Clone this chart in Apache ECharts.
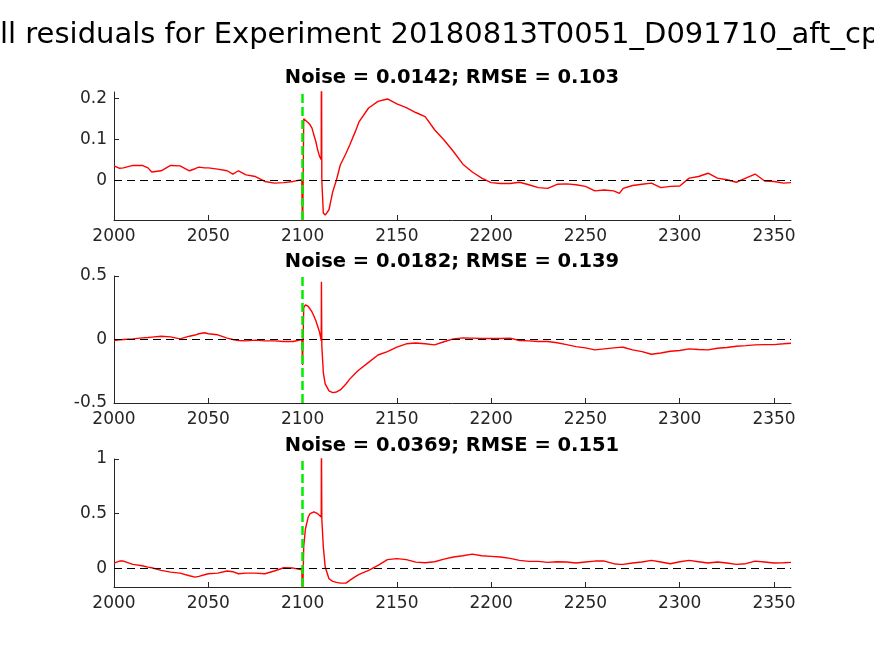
<!DOCTYPE html>
<html>
<head>
<meta charset="utf-8">
<script src="https://cdn.jsdelivr.net/npm/echarts@6/dist/echarts.min.js"></script>
<style>html,body{margin:0;padding:0;background:#fff}#c{width:874px;height:656px}</style>
</head>
<body>
<div id="c"></div>
<script>
const mainTitle = "ll residuals for Experiment 20180813T0051_D091710_aft_cp";
const subTitles = ["Noise = 0.0142; RMSE = 0.103", "Noise = 0.0182; RMSE = 0.139", "Noise = 0.0369; RMSE = 0.151"];
const xTicks = [2000, 2050, 2100, 2150, 2200, 2250, 2300, 2350];
const yTicks1 = [0, 0.1, 0.2];
const yTicks2 = [-0.5, 0, 0.5];
const yTicks3 = [0, 0.5, 1];
const eventX = 2100;
const X = [2000,2003,2005,2010,2015,2018,2020,2025,2030,2035,
2040,2043,2045,2048,2050,2055,2060,2063,2066,2070,
2075,2080,2085,2090,2095,2099.6,2100,2100.6,2101.5,2103,
2104,2105,2106,2107,2108,2109,2109.9,2110,2110.2,2111,
2112,2114,2116,2118,2120,2123,2125,2128,2130,2135,
2140,2145,2150,2155,2160,2165,2170,2175,2180,2185,
2190,2195,2200,2205,2210,2215,2220,2225,2230,2235,
2240,2245,2250,2255,2260,2265,2268,2270,2275,2280,
2285,2290,2295,2300,2305,2310,2315,2320,2325,2330,
2335,2340,2345,2350,2355,2359];
const Y1 = [0.035,0.029,0.030,0.036,0.036,0.030,0.020,0.023,0.036,0.035,
0.023,0.028,0.032,0.030,0.030,0.027,0.023,0.015,0.023,0.013,
0.009,-0.003,-0.007,-0.006,-0.003,0.001,-0.15,0.15,0.151,0.140,
0.135,0.127,0.110,0.095,0.074,0.058,0.050,0.4,0.0,-0.080,
-0.085,-0.072,-0.028,0.001,0.037,0.065,0.086,0.119,0.143,0.176,
0.192,0.198,0.186,0.177,0.165,0.155,0.123,0.098,0.070,0.039,
0.020,0.005,-0.006,-0.008,-0.008,-0.005,-0.011,-0.018,-0.020,-0.010,
-0.009,-0.011,-0.015,-0.026,-0.024,-0.026,-0.032,-0.020,-0.013,-0.010,
-0.007,-0.018,-0.015,-0.014,0.005,0.009,0.017,0.005,0.001,-0.005,
0.005,0.015,-0.002,-0.003,-0.007,-0.006];
const Y2 = [-0.008,-0.003,0.000,0.005,0.013,0.016,0.019,0.026,0.021,0.005,
0.026,0.035,0.045,0.053,0.045,0.037,0.011,0.000,-0.008,-0.011,
-0.005,-0.011,-0.011,-0.016,-0.016,0.000,-0.2,0.25,0.272,0.26,
0.24,0.217,0.185,0.150,0.105,0.058,-0.01,0.455,-0.05,-0.26,
-0.35,-0.405,-0.418,-0.413,-0.397,-0.35,-0.312,-0.265,-0.238,-0.18,
-0.122,-0.095,-0.06,-0.034,-0.027,-0.034,-0.042,-0.018,0.005,0.013,
0.011,0.008,0.008,0.008,0.011,-0.008,-0.011,-0.016,-0.016,-0.026,
-0.040,-0.056,-0.066,-0.082,-0.074,-0.066,-0.062,-0.061,-0.082,-0.095,
-0.116,-0.106,-0.093,-0.087,-0.074,-0.079,-0.082,-0.069,-0.063,-0.053,
-0.048,-0.042,-0.040,-0.040,-0.034,-0.029];
const Y3 = [0.049,0.067,0.067,0.037,0.024,0.012,0.006,-0.018,-0.034,-0.043,
-0.067,-0.080,-0.073,-0.058,-0.049,-0.043,-0.024,-0.030,-0.049,-0.043,
-0.043,-0.049,-0.024,0.006,0.003,-0.012,-0.3,0.2,0.36,0.47,
0.50,0.512,0.517,0.512,0.50,0.49,0.47,1.2,0.45,0.196,
0.012,-0.095,-0.119,-0.128,-0.135,-0.135,-0.11,-0.075,-0.055,-0.018,
0.028,0.08,0.089,0.08,0.057,0.052,0.061,0.085,0.104,0.116,
0.13,0.116,0.11,0.104,0.092,0.073,0.064,0.064,0.055,0.061,
0.058,0.049,0.058,0.067,0.067,0.043,0.037,0.037,0.049,0.058,
0.073,0.058,0.043,0.061,0.073,0.061,0.049,0.058,0.049,0.037,
0.043,0.067,0.058,0.049,0.052,0.055];
const yRanges = [[-0.097, 0.215], [-0.5, 0.5], [-0.17, 1]];

const axisColor = '#262626';
const grids = [
  {left: 114, width: 677, top: 92, height: 128},
  {left: 114, width: 677, top: 276, height: 127},
  {left: 114, width: 677, top: 459, height: 128}
];
const yTickSets = [yTicks1, yTicks2, yTicks3];
const Ys = [Y1, Y2, Y3];
const subY = [78, 262, 446];

function fmt(v){ return String(v); }

const xAxes = grids.map((g, i) => ({
  type: 'value', gridIndex: i, min: 2000, max: 2359,
  axisLine: {show: true, onZero: false, lineStyle: {color: axisColor, width: 1}},
  axisTick: {show: true, inside: true, length: 5, customValues: xTicks, lineStyle: {color: axisColor}},
  axisLabel: {show: true, customValues: xTicks, color: axisColor, fontSize: 17, fontFamily: 'DejaVu Sans', margin: 8, formatter: fmt},
  splitLine: {show: false}
}));
const yAxes = grids.map((g, i) => ({
  type: 'value', gridIndex: i, min: yRanges[i][0], max: yRanges[i][1],
  axisLine: {show: true, onZero: false, lineStyle: {color: axisColor, width: 1}},
  axisTick: {show: true, inside: true, length: 5, customValues: yTickSets[i], lineStyle: {color: axisColor}},
  axisLabel: {show: true, customValues: yTickSets[i], color: axisColor, fontSize: 17, fontFamily: 'DejaVu Sans', margin: 7, formatter: fmt},
  splitLine: {show: false}
}));
const series = Ys.map((Y, i) => ({
  type: 'line', xAxisIndex: i, yAxisIndex: i,
  data: X.map((x, k) => [x, Y[k]]),
  showSymbol: false, symbol: 'none', animation: false,
  lineStyle: {color: '#ff0000', width: 1.4},
  clip: true,
  markLine: {
    silent: true, symbol: 'none', animation: false,
    label: {show: false},
    data: [
      {yAxis: 0, lineStyle: {color: '#000', width: 1, type: [8, 5]}},
      {xAxis: eventX, lineStyle: {color: '#00ee00', width: 2.5, type: [9, 4]}}
    ]
  }
}));

const graphics = [{
  type: 'text', left: 0, top: 21,
  style: {text: mainTitle, fontSize: 29, fontFamily: 'DejaVu Sans', fill: '#000'}
}];
subTitles.forEach((t, i) => graphics.push({
  type: 'text', x: 452, y: subY[i],
  style: {text: t, fontSize: 19.5, fontWeight: 'bold', fontFamily: 'DejaVu Sans', fill: '#000', textAlign: 'center', textVerticalAlign: 'middle'}
}));

const chart = echarts.init(document.getElementById('c'), null, {renderer: 'canvas'});
chart.setOption({
  animation: false,
  backgroundColor: '#fff',
  grid: grids,
  xAxis: xAxes,
  yAxis: yAxes,
  series: series,
  graphic: graphics
});
</script>
</body>
</html>
